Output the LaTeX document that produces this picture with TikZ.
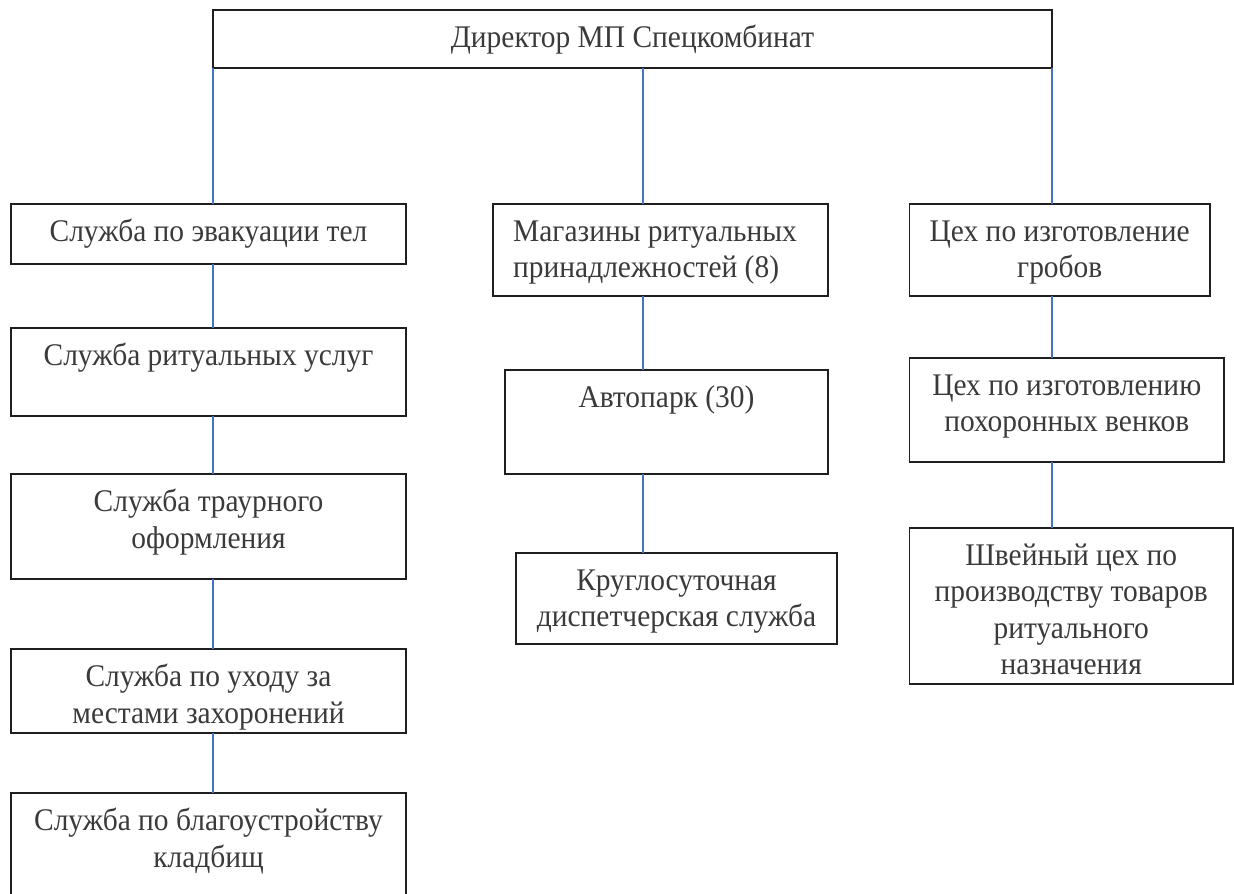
\documentclass[tikz,border=0pt]{standalone}
\usepackage{fontspec}
\setmainfont[FakeStretch=0.935]{Liberation Serif}
\definecolor{conn}{HTML}{4472C4}
\definecolor{ink}{HTML}{3A3A3A}
\tikzset{
  box/.style={draw=black!88, line width=1.6pt, inner sep=0pt, outer sep=0pt, anchor=north west},
  txt/.style={anchor=north, yshift=-15pt, inner sep=0pt, align=center, text=ink,
              font=\fontsize{31.5}{36.5}\selectfont},
  conn/.style={draw=conn, line width=1.2pt}
}
\newcommand\orgbox[7][box]{%
  \node[#1, minimum width={#5-#3}, minimum height={#6-#4},
        label={[txt]north:{\rule{0pt}{22pt}#7}}] (#2) at (#3,#4) {};}
\begin{document}
\begin{tikzpicture}[x=1pt,y=-1pt]
\useasboundingbox (0,0) rectangle (1234,894);
\orgbox{top}{213}{10}{1052}{68}{Директор МП Спецкомбинат}
% left column
\orgbox{A1}{11}{204}{406}{264}{Служба по эвакуации тел}
\orgbox{A2}{11}{328}{406}{416}{Служба ритуальных услуг}
\orgbox{A3}{11}{474}{406}{579}{Служба траурного\\оформления}
\orgbox{A4}{11}{649}{406}{733}{Служба по уходу за\\местами захоронений}
\orgbox[box,draw=none]{A5}{11}{793}{406}{905}{Служба по благоустройству\\кладбищ}
\draw[draw=black!88, line width=1.6pt] (A5.south west) -- (A5.north west) -- (A5.north east) -- (A5.south east);
% middle column
\node[box, minimum width=335, minimum height=92,
      label={[txt, anchor=north west, align=left, xshift=20pt]north west:{\rule{0pt}{22pt}Магазины ритуальных\\принадлежностей (8)}}]
      (B1) at (493,204) {};
\orgbox{B2}{505}{370}{828}{474}{Автопарк (30)}
\orgbox{B3}{516}{553}{837}{644}{Круглосуточная\\диспетчерская служба}
% right column
\orgbox{C1}{909.5}{204}{1210}{296}{Цех по изготовление\\гробов}
\orgbox{C2}{909.5}{358}{1224}{462}{Цех по изготовлению\\похоронных венков}
\orgbox{C3}{909.5}{528}{1233}{684}{Швейный цех по\\производству товаров\\ритуального\\назначения}
% connectors
\coordinate (ax) at (213,0);
\coordinate (bx) at (643,0);
\coordinate (cx) at (1052,0);
\draw[conn] (top.south -| ax) -- (A1.north -| ax);
\draw[conn] (A1.south -| ax) -- (A2.north -| ax);
\draw[conn] (A2.south -| ax) -- (A3.north -| ax);
\draw[conn] (A3.south -| ax) -- (A4.north -| ax);
\draw[conn] (A4.south -| ax) -- (A5.north -| ax);
\draw[conn] (top.south -| bx) -- (B1.north -| bx);
\draw[conn] (B1.south -| bx) -- (B2.north -| bx);
\draw[conn] (B2.south -| bx) -- (B3.north -| bx);
\draw[conn] (top.south -| cx) -- (C1.north -| cx);
\draw[conn] (C1.south -| cx) -- (C2.north -| cx);
\draw[conn] (C2.south -| cx) -- (C3.north -| cx);
\end{tikzpicture}
\end{document}
